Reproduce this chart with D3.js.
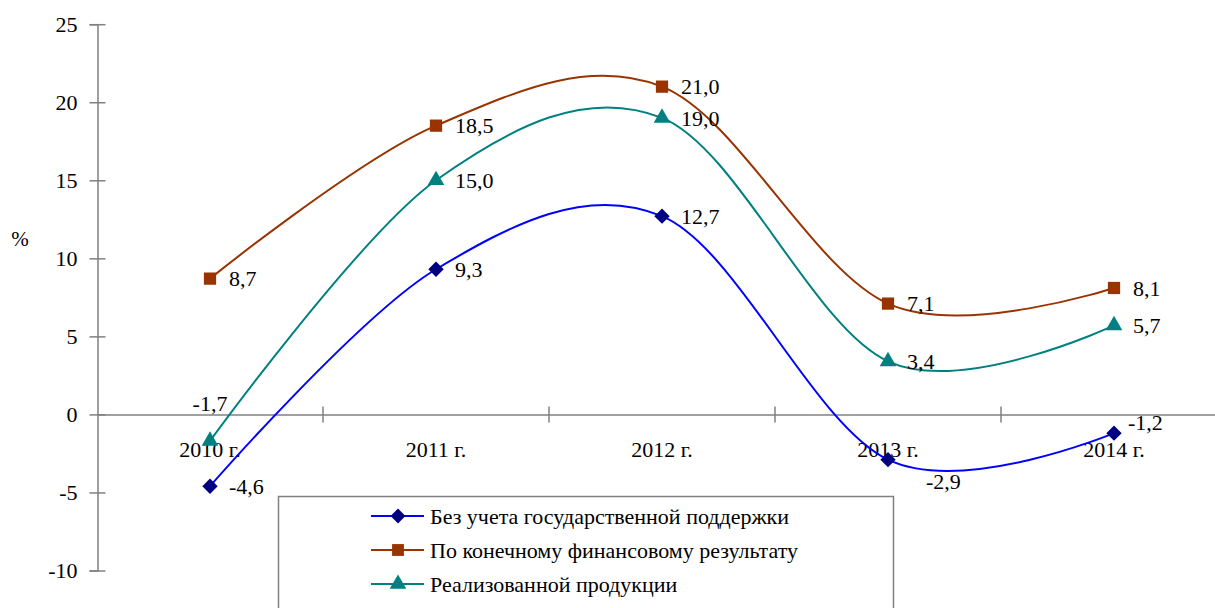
<!DOCTYPE html>
<html>
<head>
<meta charset="utf-8">
<script src="https://cdn.jsdelivr.net/npm/d3@7"></script>
<style>
  body { margin: 0; background: #fff; }
  svg text { font-family: "Liberation Serif", "Times New Roman", serif; fill: #000; }
</style>
</head>
<body>
<svg id="chart" width="1215" height="608"></svg>
<script>
const years = ['2010 г.', '2011 г.', '2012 г.', '2013 г.', '2014 г.']
const noSupport = [-4.6, 9.3, 12.7, -2.9, -1.2]
const finalResult = [8.7, 18.5, 21.0, 7.1, 8.1]
const soldProducts = [-1.7, 15.0, 19.0, 3.4, 5.7]
const yTicks = [-10, -5, 0, 5, 10, 15, 20, 25]
const seriesNames = ['Без учета государственной поддержки', 'По конечному финансовому результату', 'Реализованной продукции']

const series = [
    {key: 'blue', name: seriesNames[0], values: noSupport, line: '#0000ff', mark: '#000080', symbol: d3.symbolDiamond2},
    {key: 'brown', name: seriesNames[1], values: finalResult, line: '#993300', mark: '#993300', symbol: d3.symbolSquare},
    {key: 'teal', name: seriesNames[2], values: soldProducts, line: '#008080', mark: '#008080', symbol: d3.symbolTriangle}
]

const serif = '"Liberation Serif", "Times New Roman", serif'
const svg = d3.select('#chart')
const axisColor = '#808080'

const x = d3.scaleBand().domain(years).range([97, 1227]).paddingInner(0).paddingOuter(0)
const y = d3.scaleLinear().domain([-10, 25]).range([570.5, 24.2])
const cx = d => x(d) + x.bandwidth() / 2

// y axis, ticks crossing the line
const yAxisG = svg.append('g')
    .attr('transform', 'translate(97.5,0)')
    .call(d3.axisLeft(y).tickValues(yTicks).tickSize(8).tickPadding(12).tickFormat(d => String(d)))
    .attr('font-family', serif)
yAxisG.select('.domain').attr('stroke', axisColor).attr('stroke-width', 1.5)
yAxisG.selectAll('.tick line').attr('x2', -8).attr('x1', 8).attr('stroke', axisColor).attr('stroke-width', 1.5)
yAxisG.selectAll('.tick text').style('font-size', '22px')

// x axis at zero
const xAxisG = svg.append('g')
    .attr('transform', `translate(0,${y(0)})`)
    .call(d3.axisBottom(x).tickSize(0).tickPadding(27))
    .attr('font-family', serif)
xAxisG.select('.domain').attr('stroke', axisColor).attr('stroke-width', 1.5)
xAxisG.selectAll('.tick text').style('font-size', '22px')
xAxisG.selectAll('.bound')
    .data(years)
    .join('line')
    .attr('class', 'bound')
    .attr('x1', d => x(d) + x.bandwidth())
    .attr('x2', d => x(d) + x.bandwidth())
    .attr('y1', -8).attr('y2', 8)
    .attr('stroke', axisColor).attr('stroke-width', 1.5)

svg.append('text').attr('x', 20).attr('y', 246).attr('text-anchor', 'middle').style('font-size', '21px').text('%')

// lines
const line = d3.line()
    .x((d, i) => cx(years[i]))
    .y(d => y(d))
    .curve(d3.curveCardinal.tension(0))

series.forEach(s => {
    svg.append('path')
        .datum(s.values)
        .attr('d', line)
        .attr('fill', 'none')
        .attr('stroke', s.line)
        .attr('stroke-width', 2)
})

// markers + labels
const fmt = v => v.toFixed(1).replace('.', ',')
function labelPos(key, i) {
    if (key === 'teal' && i === 0) return {dx: 0, dy: -38, anchor: 'middle'}
    if (key === 'blue' && i === 3) return {dx: 38, dy: 22, anchor: 'start'}
    if (key === 'blue' && i === 4) return {dx: 14, dy: -11, anchor: 'start'}
    return {dx: 19, dy: 0, anchor: 'start'}
}

series.forEach(s => {
    const g = svg.append('g')
    g.selectAll('path')
        .data(s.values)
        .join('path')
        .attr('transform', (d, i) => `translate(${cx(years[i])},${y(d)})`)
        .attr('d', d3.symbol().type(s.symbol).size(s.symbol === d3.symbolTriangle ? 120 : 150))
        .attr('fill', s.mark)
    g.selectAll('text')
        .data(s.values)
        .join('text')
        .attr('x', (d, i) => cx(years[i]) + labelPos(s.key, i).dx)
        .attr('y', (d, i) => y(d) + labelPos(s.key, i).dy)
        .attr('dy', '0.35em')
        .attr('text-anchor', (d, i) => labelPos(s.key, i).anchor)
        .style('font-size', '22px')
        .text(d => fmt(d))
})

// legend
svg.append('rect')
    .attr('x', 278.5).attr('y', 496.5).attr('width', 615).attr('height', 140)
    .attr('fill', '#fff').attr('stroke', axisColor).attr('stroke-width', 1.5)

const legend = svg.append('g').selectAll('g')
    .data(series)
    .join('g')
    .attr('transform', (d, i) => `translate(0,${516 + i * 34})`)
legend.append('line')
    .attr('x1', 371).attr('x2', 424)
    .attr('stroke', d => d.line).attr('stroke-width', 2)
legend.append('path')
    .attr('transform', 'translate(398,0)')
    .attr('d', d => d3.symbol().type(d.symbol).size(d.symbol === d3.symbolTriangle ? 120 : 140)())
    .attr('fill', d => d.mark)
legend.append('text')
    .attr('x', 430).attr('dy', '0.35em')
    .style('font-size', '22px')
    .text(d => d.name)
</script>
</body>
</html>
